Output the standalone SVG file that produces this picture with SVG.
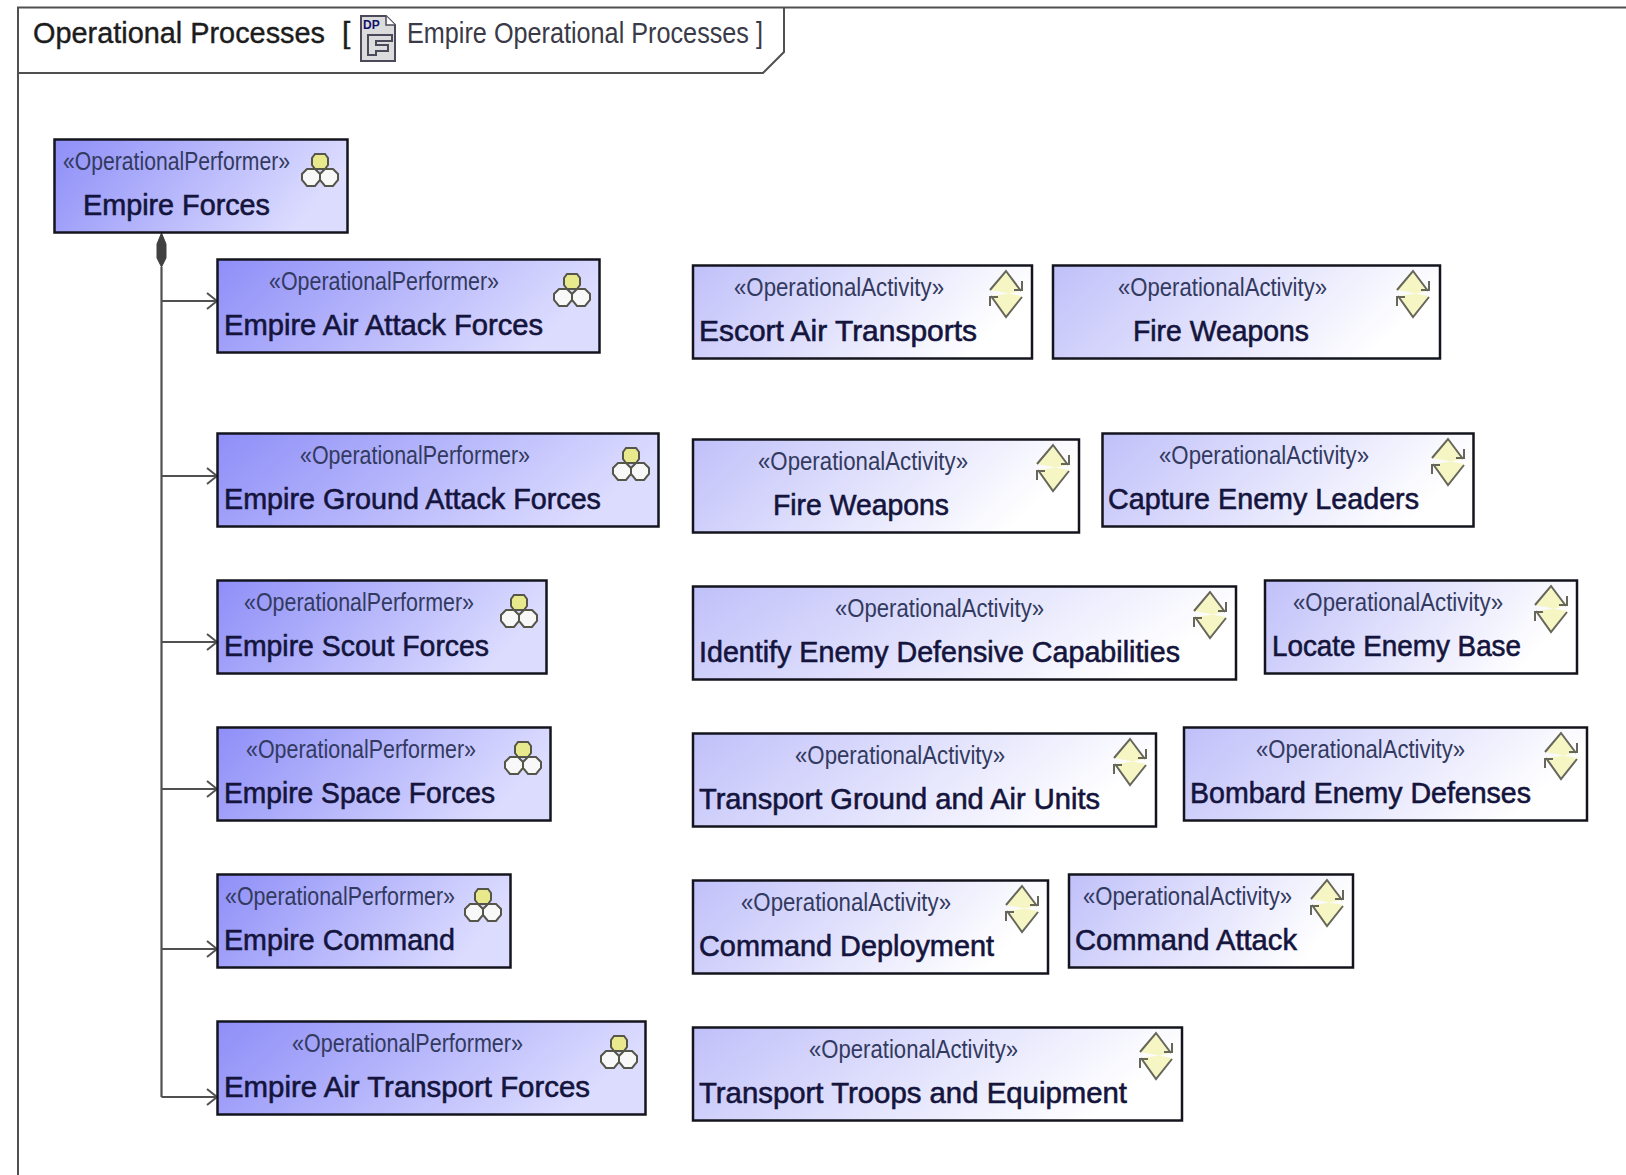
<svg xmlns="http://www.w3.org/2000/svg" xmlns:xlink="http://www.w3.org/1999/xlink" width="1626" height="1175" viewBox="0 0 1626 1175">
<style>
text{font-family:"Liberation Sans",Arial,sans-serif}
.title{font-size:30px;fill:#1c1c1c;stroke:#1c1c1c;stroke-width:.4px}
.sub{font-size:29px;fill:#3a3a48}
.st{font-size:25px;fill:#333a60;transform:translateY(-1px)}
.nm{font-size:30px;fill:#14143c;stroke:#14143c;stroke-width:.6px;transform:translateY(-1px)}
.perf{fill:url(#gp);stroke:#14141e;stroke-width:2.5}
.act{fill:url(#ga);stroke:#14141e;stroke-width:2.5}
.frame{fill:none;stroke:#505050;stroke-width:2}
.conn{fill:none;stroke:#505050;stroke-width:2.2}
</style>
<defs>
<linearGradient id="gp" x1="0" y1="0" x2="1" y2="0.25"><stop offset="0" stop-color="#8e8ef8"/><stop offset="1" stop-color="#dcdcff"/></linearGradient>
<linearGradient id="ga" x1="0" y1="0" x2="1" y2="0.25"><stop offset="0" stop-color="#c0c0fa"/><stop offset="1" stop-color="#ffffff"/></linearGradient>
<marker id="open" markerUnits="userSpaceOnUse" markerWidth="16" markerHeight="22" refX="13" refY="11" orient="auto"><path d="M3 3L13 11L3 19" fill="none" stroke="#505050" stroke-width="2"/></marker>
<symbol id="pi" overflow="visible" viewBox="0 0 36 34" width="36" height="34">
<path d="M13 1H23L26 5V12L23 16H13L10 12V5Z" fill="#e8e88c" stroke="#55554a" stroke-width="2"/>
<path d="M5 16H13L18 21V27L13 33H5L0 27V21Z" fill="#f8f8f8" stroke="#55554a" stroke-width="2"/>
<path d="M23 16H31L36 21V27L31 33H23L18 27V21Z" fill="#f8f8f8" stroke="#55554a" stroke-width="2"/>
</symbol>
<symbol id="ai" overflow="visible" viewBox="0 0 34 48" width="34" height="48">
<path d="M1 20L17 1L32 21L17 24L2 26L17 47L33 26Z" fill="#f6f6c4" stroke="none"/>
<path d="M1 20L17 1L32 21M25 20H33V11" fill="none" stroke="#66665a" stroke-width="2"/>
<path d="M33 27L17 47L2 26M9 27H1V36" fill="none" stroke="#66665a" stroke-width="2"/>
</symbol>
</defs>
<rect width="1626" height="1175" fill="#fff"/>
<g id="frame">
<path class="frame" d="M18 1175V7.500H1626M18 73H763L784 52V7.500"/>
<text class="title" x="33" y="43" textLength="292" lengthAdjust="spacingAndGlyphs">Operational Processes</text>
<text class="title" x="342" y="43">[</text>
<g id="frame-icon">
<path d="M361 16H386L395 25V61H361Z" fill="#dcdcdc" stroke="#4a4a5a" stroke-width="2"/>
<path d="M386 16V25H395" fill="#fff" stroke="#4a4a5a" stroke-width="1.500"/>
<text x="363" y="29" font-size="12" font-weight="bold" fill="#10106a">DP</text>
<path d="M368 35H392V41H376V45H388V51H376V55H368Z" fill="none" stroke="#4a4a5a" stroke-width="2"/>
</g>
<text class="sub" x="407" y="43" textLength="356" lengthAdjust="spacingAndGlyphs">Empire Operational Processes ]</text>
</g>
<g id="connectors">
<path class="conn" d="M161.500 267V1097"/>
<path d="M161.500 233L166 244V258L161.500 267L157 258V244Z" fill="#404040" stroke="#404040"/>
<path class="conn" marker-end="url(#open)" d="M161.500 301H217"/>
<path class="conn" marker-end="url(#open)" d="M161.500 476H217"/>
<path class="conn" marker-end="url(#open)" d="M161.500 642H217"/>
<path class="conn" marker-end="url(#open)" d="M161.500 789H217"/>
<path class="conn" marker-end="url(#open)" d="M161.500 949H217"/>
<path class="conn" marker-end="url(#open)" d="M161.500 1097H217"/>
</g>
<g id="empire-forces"><rect class="perf" x="54.500" y="139.500" width="293" height="93"/><use href="#pi" x="302" y="153"/><text class="st" x="63" y="171" textLength="227" lengthAdjust="spacingAndGlyphs">«OperationalPerformer»</text><text class="nm" x="83" y="216" textLength="187" lengthAdjust="spacingAndGlyphs">Empire Forces</text></g>
<g id="air-attack"><rect class="perf" x="217.500" y="259.500" width="382" height="93"/><use href="#pi" x="554" y="273"/><text class="st" x="269" y="291" textLength="230" lengthAdjust="spacingAndGlyphs">«OperationalPerformer»</text><text class="nm" x="224" y="336" textLength="319" lengthAdjust="spacingAndGlyphs">Empire Air Attack Forces</text></g>
<g id="ground-attack"><rect class="perf" x="217.500" y="433.500" width="441" height="93"/><use href="#pi" x="613" y="447"/><text class="st" x="300" y="465" textLength="230" lengthAdjust="spacingAndGlyphs">«OperationalPerformer»</text><text class="nm" x="224" y="510" textLength="377" lengthAdjust="spacingAndGlyphs">Empire Ground Attack Forces</text></g>
<g id="scout"><rect class="perf" x="217.500" y="580.500" width="329" height="93"/><use href="#pi" x="501" y="594"/><text class="st" x="244" y="612" textLength="230" lengthAdjust="spacingAndGlyphs">«OperationalPerformer»</text><text class="nm" x="224" y="657" textLength="265" lengthAdjust="spacingAndGlyphs">Empire Scout Forces</text></g>
<g id="space"><rect class="perf" x="217.500" y="727.500" width="333" height="93"/><use href="#pi" x="505" y="741"/><text class="st" x="246" y="759" textLength="230" lengthAdjust="spacingAndGlyphs">«OperationalPerformer»</text><text class="nm" x="224" y="804" textLength="271" lengthAdjust="spacingAndGlyphs">Empire Space Forces</text></g>
<g id="command"><rect class="perf" x="217.500" y="874.500" width="293" height="93"/><use href="#pi" x="465" y="888"/><text class="st" x="225" y="906" textLength="230" lengthAdjust="spacingAndGlyphs">«OperationalPerformer»</text><text class="nm" x="224" y="951" textLength="231" lengthAdjust="spacingAndGlyphs">Empire Command</text></g>
<g id="air-transport"><rect class="perf" x="217.500" y="1021.500" width="428" height="93"/><use href="#pi" x="601" y="1035"/><text class="st" x="292" y="1053" textLength="231" lengthAdjust="spacingAndGlyphs">«OperationalPerformer»</text><text class="nm" x="224" y="1098" textLength="366" lengthAdjust="spacingAndGlyphs">Empire Air Transport Forces</text></g>
<g id="escort"><rect class="act" x="693" y="265.500" width="339" height="93"/><use href="#ai" x="989" y="270"/><text class="st" x="734" y="297" textLength="210" lengthAdjust="spacingAndGlyphs">«OperationalActivity»</text><text class="nm" x="699" y="342" textLength="278" lengthAdjust="spacingAndGlyphs">Escort Air Transports</text></g>
<g id="fire-1"><rect class="act" x="1053" y="265.500" width="387" height="93"/><use href="#ai" x="1396" y="270"/><text class="st" x="1118" y="297" textLength="209" lengthAdjust="spacingAndGlyphs">«OperationalActivity»</text><text class="nm" x="1133" y="342" textLength="176" lengthAdjust="spacingAndGlyphs">Fire Weapons</text></g>
<g id="fire-2"><rect class="act" x="693" y="439.500" width="386" height="93"/><use href="#ai" x="1036" y="444"/><text class="st" x="758" y="471" textLength="210" lengthAdjust="spacingAndGlyphs">«OperationalActivity»</text><text class="nm" x="773" y="516" textLength="176" lengthAdjust="spacingAndGlyphs">Fire Weapons</text></g>
<g id="capture"><rect class="act" x="1102.500" y="433.500" width="371" height="93"/><use href="#ai" x="1431" y="438"/><text class="st" x="1159" y="465" textLength="210" lengthAdjust="spacingAndGlyphs">«OperationalActivity»</text><text class="nm" x="1108" y="510" textLength="311" lengthAdjust="spacingAndGlyphs">Capture Enemy Leaders</text></g>
<g id="identify"><rect class="act" x="693" y="586.500" width="543" height="93"/><use href="#ai" x="1193" y="591"/><text class="st" x="835" y="618" textLength="209" lengthAdjust="spacingAndGlyphs">«OperationalActivity»</text><text class="nm" x="699" y="663" textLength="481" lengthAdjust="spacingAndGlyphs">Identify Enemy Defensive Capabilities</text></g>
<g id="locate"><rect class="act" x="1265" y="580.500" width="312" height="93"/><use href="#ai" x="1534" y="585"/><text class="st" x="1293" y="612" textLength="210" lengthAdjust="spacingAndGlyphs">«OperationalActivity»</text><text class="nm" x="1272" y="657" textLength="249" lengthAdjust="spacingAndGlyphs">Locate Enemy Base</text></g>
<g id="transport-ground"><rect class="act" x="693" y="733.500" width="463" height="93"/><use href="#ai" x="1113" y="738"/><text class="st" x="795" y="765" textLength="210" lengthAdjust="spacingAndGlyphs">«OperationalActivity»</text><text class="nm" x="699" y="810" textLength="401" lengthAdjust="spacingAndGlyphs">Transport Ground and Air Units</text></g>
<g id="bombard"><rect class="act" x="1184" y="727.500" width="403" height="93"/><use href="#ai" x="1544" y="732"/><text class="st" x="1256" y="759" textLength="209" lengthAdjust="spacingAndGlyphs">«OperationalActivity»</text><text class="nm" x="1190" y="804" textLength="341" lengthAdjust="spacingAndGlyphs">Bombard Enemy Defenses</text></g>
<g id="command-deployment"><rect class="act" x="693" y="880.500" width="355" height="93"/><use href="#ai" x="1005" y="885"/><text class="st" x="741" y="912" textLength="210" lengthAdjust="spacingAndGlyphs">«OperationalActivity»</text><text class="nm" x="699" y="957" textLength="295" lengthAdjust="spacingAndGlyphs">Command Deployment</text></g>
<g id="command-attack"><rect class="act" x="1069" y="874.500" width="284" height="93"/><use href="#ai" x="1310" y="879"/><text class="st" x="1083" y="906" textLength="209" lengthAdjust="spacingAndGlyphs">«OperationalActivity»</text><text class="nm" x="1075" y="951" textLength="222" lengthAdjust="spacingAndGlyphs">Command Attack</text></g>
<g id="transport-troops"><rect class="act" x="693" y="1027.500" width="489" height="93"/><use href="#ai" x="1139" y="1032"/><text class="st" x="809" y="1059" textLength="209" lengthAdjust="spacingAndGlyphs">«OperationalActivity»</text><text class="nm" x="699" y="1104" textLength="428" lengthAdjust="spacingAndGlyphs">Transport Troops and Equipment</text></g>
</svg>
